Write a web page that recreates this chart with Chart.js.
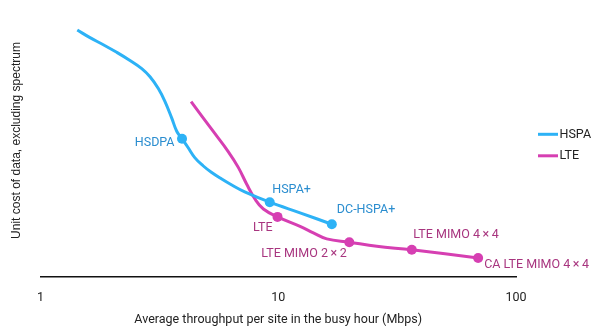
<!DOCTYPE html>
<html>
<head>
<meta charset="utf-8">
<script src="https://cdn.jsdelivr.net/npm/chart.js@4/dist/chart.umd.min.js"></script>
<style>
html,body{margin:0;padding:0;background:#fff;}
#wrap{width:600px;height:330px;position:relative;}
</style>
</head>
<body>
<div id="wrap"><canvas id="c" width="600" height="330"></canvas></div>
<script>
// ---- data ----
const seriesNames = ['HSPA', 'LTE'];
const hspaX = [1.428, 1.615, 1.837, 2.092, 2.379, 2.666, 2.888, 3.130, 3.340, 3.565, 3.741, 3.938, 4.174, 4.455, 4.827, 5.231, 5.763, 6.350, 7.228, 9.21, 12.35, 16.8];
const hspaY = [90.8, 88.0, 85.4, 82.6, 79.6, 76.6, 73.6, 69.3, 64.5, 58.4, 53.6, 50.8, 47.6, 43.9, 40.9, 38.5, 36.1, 33.9, 31.3, 27.5, 23.6, 19.4];
const hspaLabels = ['', '', '', '', '', '', '', '', '', '', '', 'HSDPA', '', '', '', '', '', '', '', 'HSPA+', '', 'DC-HSPA+'];
const lteX = [4.30, 5.33, 6.15, 6.79, 7.37, 7.99, 8.66, 9.93, 12.35, 14.05, 16.0, 19.9, 25.97, 36.45, 69.3];
const lteY = [64.5, 53.5, 46.2, 40.3, 34.1, 28.6, 25.0, 22.1, 18.6, 16.2, 14.0, 12.8, 11.3, 10.0, 7.0];
const lteLabels = ['', '', '', '', '', '', '', 'LTE', '', '', '', 'LTE MIMO 2\u2009×\u20092', '', 'LTE MIMO 4\u2009×\u20094', 'CA LTE MIMO 4\u2009×\u20094'];
const xTicks = [1, 10, 100];
const xTitle = 'Average throughput per site in the busy hour (Mbps)';
const yTitle = 'Unit cost of data, excluding spectrum';

// ---- styles ----
const lineColors = ['#2db2f6', '#d63fb2'];
const labelColors = ['#2a8dcf', '#a8357f'];
const labelOffsets = {
  'HSDPA': [-7.5, 4, 'right'],
  'HSPA+': [2.5, -12, 'left'],
  'DC-HSPA+': [5, -14.5, 'left'],
  'LTE': [-5, 11, 'right'],
  'LTE MIMO 2\u2009×\u20092': [-2.6, 12, 'right'],
  'LTE MIMO 4\u2009×\u20094': [1.5, -14.5, 'left'],
  'CA LTE MIMO 4\u2009×\u20094': [6, 6.5, 'left']
};
const FONT = 'Roboto, "DejaVu Sans", sans-serif';

function mk(xs, ys) { return xs.map((x, i) => ({x: x, y: ys[i]})); }
const allLabels = [hspaLabels, lteLabels];

const pointLabelPlugin = {
  id: 'pointLabels',
  afterDatasetsDraw(chart) {
    const ctx = chart.ctx;
    ctx.save();
    ctx.font = '12.5px ' + FONT;
    ctx.textBaseline = 'middle';
    chart.data.datasets.forEach((ds, di) => {
      const meta = chart.getDatasetMeta(di);
      allLabels[di].forEach((lab, i) => {
        if (!lab) return;
        const p = meta.data[i];
        const o = labelOffsets[lab];
        ctx.fillStyle = labelColors[di];
        ctx.textAlign = o[2];
        ctx.fillText(lab, p.x + o[0], p.y + o[1]);
      });
    });
    ctx.restore();
  }
};

const customLegendPlugin = {
  id: 'customLegend',
  afterDraw(chart) {
    const ctx = chart.ctx;
    ctx.save();
    ctx.font = '12.5px ' + FONT;
    ctx.textBaseline = 'middle';
    ctx.textAlign = 'left';
    chart.data.datasets.forEach((ds, di) => {
      const y = 134.3 + di * 21.5;
      ctx.strokeStyle = ds.borderColor;
      ctx.lineWidth = 3;
      ctx.beginPath();
      ctx.moveTo(538, y);
      ctx.lineTo(558, y);
      ctx.stroke();
      ctx.fillStyle = '#222';
      ctx.fillText(ds.label, 559.5, y + 0.5);
    });
    // y axis title
    ctx.translate(17, 140.5);
    ctx.rotate(-Math.PI / 2);
    ctx.textAlign = 'center';
    ctx.font = '12px "Liberation Sans", Arial, sans-serif';
    ctx.fillStyle = '#222';
    ctx.fillText(yTitle, 0, 0);
    ctx.restore();
  }
};

new Chart(document.getElementById('c'), {
  type: 'line',
  data: {
    datasets: [
      {
        label: seriesNames[0],
        data: mk(hspaX, hspaY),
        borderColor: lineColors[0],
        backgroundColor: lineColors[0],
        borderWidth: 3,
        tension: 0.4,
        pointRadius: c => hspaLabels[c.dataIndex] ? 5 : 0,
        pointBorderWidth: 0,
        pointHoverRadius: 0
      },
      {
        label: seriesNames[1],
        data: mk(lteX, lteY),
        borderColor: lineColors[1],
        backgroundColor: lineColors[1],
        borderWidth: 3,
        tension: 0.4,
        pointRadius: c => lteLabels[c.dataIndex] ? 5 : 0,
        pointBorderWidth: 0,
        pointHoverRadius: 0
      }
    ]
  },
  options: {
    responsive: false,
    animation: false,
    events: [],
    layout: { padding: { left: 40.5, right: 84, top: 2, bottom: 3 } },
    plugins: {
      legend: { display: false },
      tooltip: { enabled: false }
    },
    scales: {
      x: {
        type: 'logarithmic',
        min: 1,
        max: 100,
        afterBuildTicks: (scale) => { scale.ticks = xTicks.map(v => ({value: v})); },
        ticks: {
          padding: 13.5,
          color: '#222',
          font: { family: FONT, size: 12.5 },
          callback: (v) => String(v),
          maxRotation: 0,
          autoSkip: false
        },
        grid: { display: false, drawTicks: false },
        border: { display: true, color: '#111', width: 1.5 },
        title: {
          display: true,
          text: xTitle,
          color: '#222',
          font: { family: FONT, size: 12.5 },
          padding: { top: -7, bottom: 0 }
        }
      },
      y: {
        display: false,
        min: 0,
        max: 100
      }
    }
  },
  plugins: [pointLabelPlugin, customLegendPlugin]
});
</script>
</body>
</html>
